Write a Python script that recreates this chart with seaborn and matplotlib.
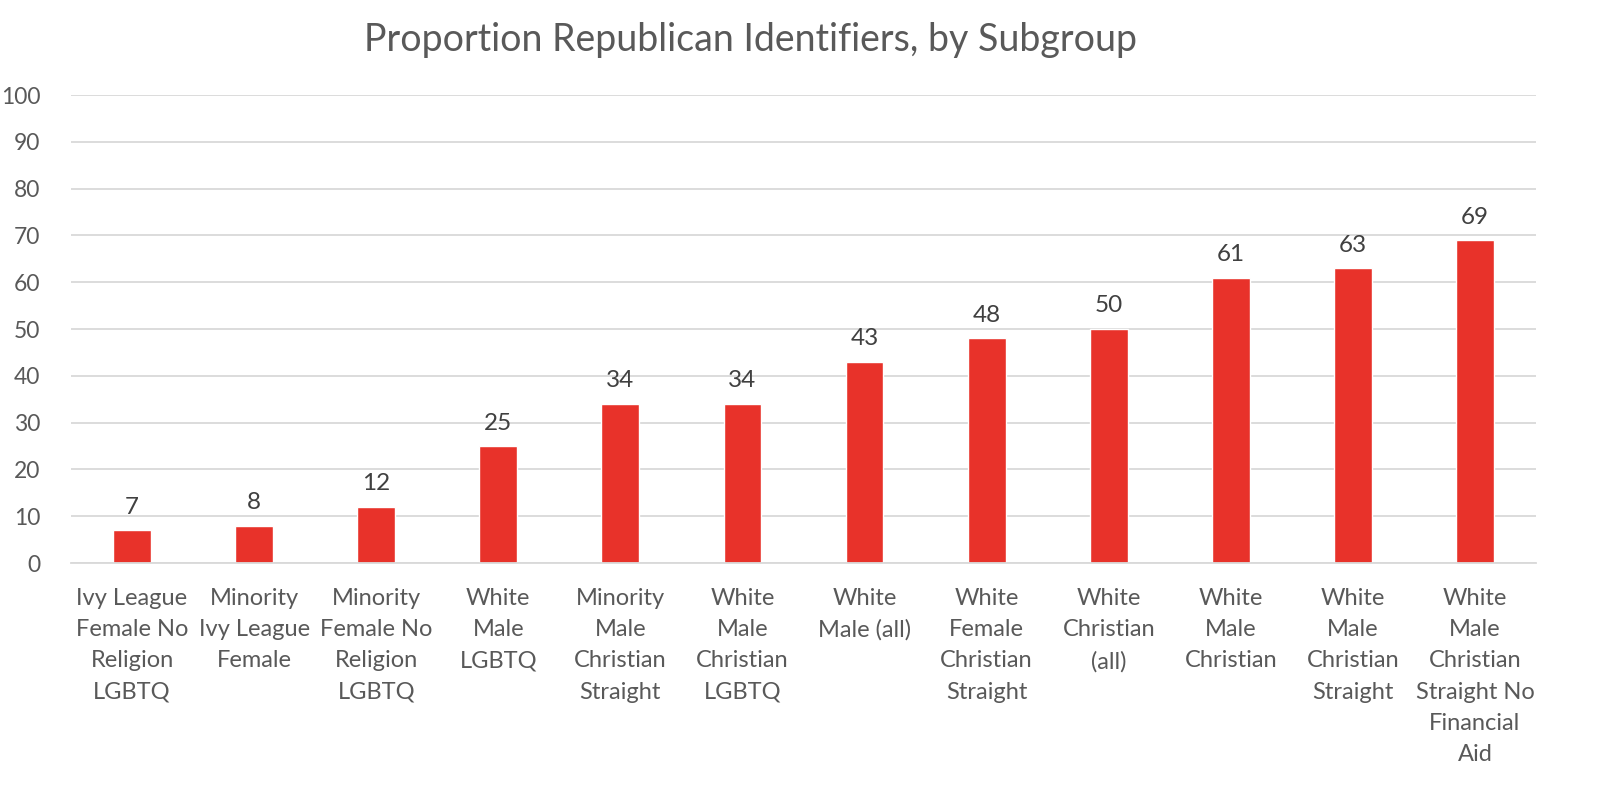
import matplotlib
matplotlib.use("Agg")
import matplotlib.pyplot as plt
import seaborn as sns
import pandas as pd

categories = [
    "Ivy League\nFemale No\nReligion\nLGBTQ",
    "Minority\nIvy League\nFemale",
    "Minority\nFemale No\nReligion\nLGBTQ",
    "White\nMale\nLGBTQ",
    "Minority\nMale\nChristian\nStraight",
    "White\nMale\nChristian\nLGBTQ",
    "White\nMale (all)",
    "White\nFemale\nChristian\nStraight",
    "White\nChristian\n(all)",
    "White\nMale\nChristian",
    "White\nMale\nChristian\nStraight",
    "White\nMale\nChristian\nStraight No\nFinancial\nAid",
]
values = [7, 8, 12, 25, 34, 34, 43, 48, 50, 61, 63, 69]
y_ticks = [0, 10, 20, 30, 40, 50, 60, 70, 80, 90, 100]

df = pd.DataFrame({"cat": categories, "val": values})

sns.set_theme(style="white")
plt.rcParams['font.family'] = ['Lato', 'DejaVu Sans']

fig = plt.figure(figsize=(16, 7.93), dpi=100)
ax = fig.add_axes([71/1600, 1 - 563/793, (1536-71)/1600, (563-95)/793])

sns.barplot(data=df, x="cat", y="val", color="#E8322A", saturation=1,
            width=0.31, ax=ax)

ax.set_ylim(0, 100)
ax.set_yticks(y_ticks)
ax.set_xlim(-0.5, len(categories) - 0.5)
ax.grid(axis="y", color="#D9D9D9", linewidth=1.3)
ax.set_axisbelow(True)
for s in ["top", "right", "left"]:
    ax.spines[s].set_visible(False)
ax.spines["bottom"].set_color("#D9D9D9")
ax.spines["bottom"].set_linewidth(1.3)

ax.tick_params(axis="y", length=0, pad=22, labelsize=16.5, labelcolor="#595959")
ax.tick_params(axis="x", length=0, pad=18, labelsize=17, labelcolor="#595959")
for lab in ax.get_xticklabels():
    lab.set_linespacing(1.6)
    lab.set_verticalalignment("top")
ax.set_xlabel("")
ax.set_ylabel("")

for c in ax.containers:
    ax.bar_label(c, labels=[str(v) for v in values], padding=9,
                 fontsize=17.5, color="#404040")

fig.text(0.469, 1 - 40/793, "Proportion Republican Identifiers, by Subgroup",
         ha="center", va="center", fontsize=27, color="#595959")

fig.savefig("out.png", dpi=100, facecolor="white")
